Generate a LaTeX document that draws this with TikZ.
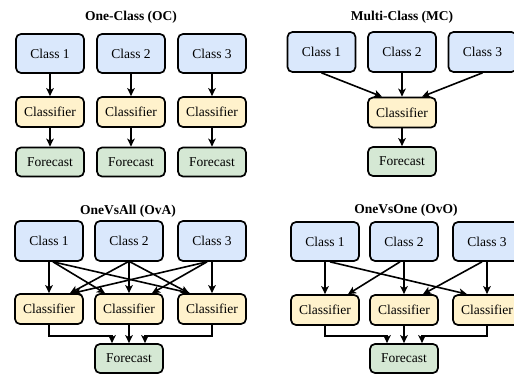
\documentclass[tikz,border=0pt]{standalone}
\usepackage{fontspec}
\setmainfont{Liberation Serif}
\usetikzlibrary{arrows.meta}
\definecolor{clsblue}{HTML}{DAE8FC}
\definecolor{clfyellow}{HTML}{FFF2CC}
\definecolor{fcgreen}{HTML}{D5E8D4}
\tikzset{
  box/.style={draw=black, line width=1.7pt, rounded corners=5pt, inner sep=0pt,
              font=\rmfamily\fontsize{13.5}{15}\selectfont},
  classbox/.style={box, fill=clsblue, minimum width=68pt, minimum height=39pt},
  clfbox/.style={box, fill=clfyellow, minimum width=68pt, minimum height=30pt},
  fcbox/.style={box, fill=fcgreen, minimum width=68pt, minimum height=29pt},
  paneltitle/.style={font=\rmfamily\fontsize{13.5}{15}\selectfont\bfseries, inner sep=0pt},
  arr/.style={draw=black, line width=1.6pt, -{Stealth[length=8pt,width=7.5pt,inset=2pt]}}
}
\begin{document}
\begin{tikzpicture}[x=1pt,y=-1pt]
\useasboundingbox (0,0) rectangle (514,374);

% ---- One-Class (OC) ----
\node[paneltitle] (t1) at (131,17) {One-Class (OC)};
\node[classbox] (c11) at (50,53.5) {Class 1};
\node[classbox] (c12) at (131,53.5) {Class 2};
\node[classbox] (c13) at (212,53.5) {Class 3};
\node[clfbox] (k11) at (50,112) {Classifier};
\node[clfbox] (k12) at (131,112) {Classifier};
\node[clfbox] (k13) at (212,112) {Classifier};
\node[fcbox] (f11) at (50,162) {Forecast};
\node[fcbox] (f12) at (131,162) {Forecast};
\node[fcbox] (f13) at (212,162) {Forecast};
\foreach \i in {1,2,3}{
  \draw[arr] (c1\i.south) -- (k1\i.north);
  \draw[arr] (k1\i.south) -- (f1\i.north);
}

% ---- Multi-Class (MC) ----
\node[paneltitle] (t2) at (402,17) {Multi-Class (MC)};
\node[classbox, minimum height=40pt] (c21) at (321.5,52) {Class 1};
\node[classbox, minimum height=40pt] (c22) at (402,52) {Class 2};
\node[classbox, minimum height=40pt] (c23) at (482.5,52) {Class 3};
\node[clfbox] (k2) at (402,112.5) {Classifier};
\node[fcbox] (f2) at (402,161.5) {Forecast};
\draw[arr] (c21.south) -- ([xshift=-20pt]k2.north);
\draw[arr] (c22.south) -- (k2.north);
\draw[arr] (c23.south) -- ([xshift=20pt]k2.north);
\draw[arr] (k2.south) -- (f2.north);

% ---- OneVsAll (OvA) ----
\node[paneltitle] (t3) at (128,211) {OneVsAll (OvA)};
\node[classbox, minimum height=40pt] (c31) at (49,241) {Class 1};
\node[classbox, minimum height=40pt] (c32) at (129,241) {Class 2};
\node[classbox, minimum height=40pt] (c33) at (212,241) {Class 3};
\node[clfbox] (k31) at (49,309) {Classifier};
\node[clfbox] (k32) at (129,309) {Classifier};
\node[clfbox] (k33) at (212,309) {Classifier};
\node[fcbox] (f3) at (129,358.5) {Forecast};
% class 1
\draw[arr] (c31.south) -- (k31.north);
\draw[arr] ([xshift=4pt]c31.south) -- ([xshift=-24pt]k32.north);
\draw[arr] ([xshift=4pt]c31.south) -- ([xshift=-22pt]k33.north);
% class 2
\draw[arr] ([xshift=-1pt]c32.south) -- ([xshift=21pt]k31.north);
\draw[arr] (c32.south) -- (k32.north);
\draw[arr] ([xshift=1pt]c32.south) -- ([xshift=-23pt]k33.north);
% class 3
\draw[arr] ([xshift=-5pt]c33.south) -- ([xshift=24pt]k31.north);
\draw[arr] ([xshift=-5pt]c33.south) -- ([xshift=23pt]k32.north);
\draw[arr] (c33.south) -- (k33.north);
% classifiers to forecast
\draw[arr] (k31.south) -- ++(0,11) -| ([xshift=-17pt]f3.north);
\draw[arr] (k32.south) -- (f3.north);
\draw[arr] (k33.south) -- ++(0,11) -| ([xshift=16pt]f3.north);

% ---- OneVsOne (OvO) ----
\node[paneltitle] (t4) at (406,210) {OneVsOne (OvO)};
\node[classbox] (c41) at (325,241.5) {Class 1};
\node[classbox] (c42) at (404,241.5) {Class 2};
\node[classbox] (c43) at (487,241.5) {Class 3};
\node[clfbox] (k41) at (325,310) {Classifier};
\node[clfbox] (k42) at (404,310) {Classifier};
\node[clfbox] (k43) at (487,310) {Classifier};
\node[fcbox] (f4) at (404,358.5) {Forecast};
\draw[arr] (c41.south) -- (k41.north);
\draw[arr] ([xshift=5pt]c41.south) -- ([xshift=-20pt]k43.north);
\draw[arr] ([xshift=-4pt]c42.south) -- ([xshift=23pt]k41.north);
\draw[arr] (c42.south) -- (k42.north);
\draw[arr] ([xshift=-5pt]c43.south) -- ([xshift=19pt]k42.north);
\draw[arr] (c43.south) -- (k43.north);
\draw[arr] (k41.south) -- ++(0,10) -| ([xshift=-17pt]f4.north);
\draw[arr] (k42.south) -- (f4.north);
\draw[arr] (k43.south) -- ++(0,10) -| ([xshift=18pt]f4.north);
\end{tikzpicture}
\end{document}
